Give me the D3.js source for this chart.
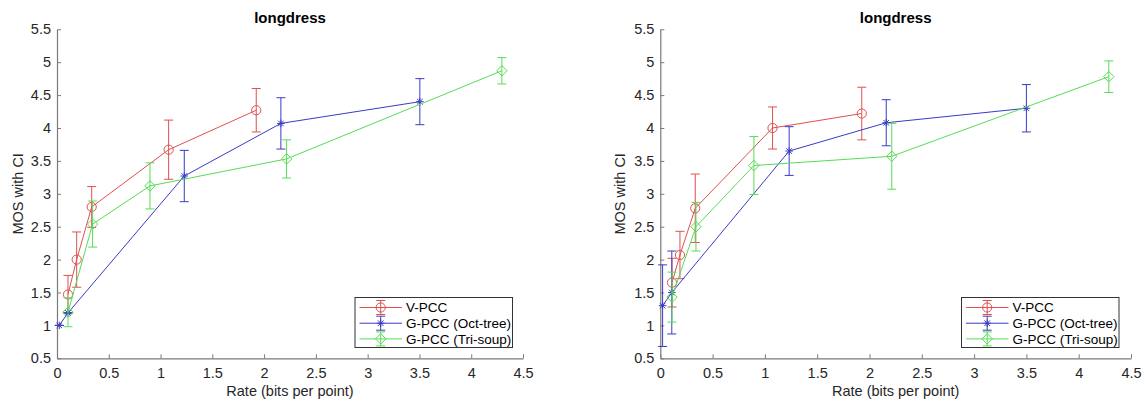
<!DOCTYPE html>
<html>
<head>
<meta charset="utf-8">
<script src="https://cdn.jsdelivr.net/npm/d3@7"></script>
<style>
  html, body { margin: 0; padding: 0; background: #fff; }
  svg { display: block; font-family: "Liberation Sans", Arial, sans-serif; }
</style>
</head>
<body>
<svg id="chart" width="1145" height="401"></svg>
<script>
// ---- data ----
const chartTitle = "longdress";
const xLabel = "Rate (bits per point)";
const yLabel = "MOS with CI";
const xTicks = [0, 0.5, 1, 1.5, 2, 2.5, 3, 3.5, 4, 4.5];
const yTicks = [0.5, 1, 1.5, 2, 2.5, 3, 3.5, 4, 4.5, 5, 5.5];
const seriesNames = ["V-PCC", "G-PCC (Oct-tree)", "G-PCC (Tri-soup)"];

// left panel
const leftVpccRate = [0.106, 0.19, 0.335, 1.078, 1.924];
const leftVpccMos  = [1.47, 2.00, 2.80, 3.67, 4.27];
const leftVpccCi   = [0.29, 0.42, 0.31, 0.45, 0.33];
const leftOctRate  = [0.022, 0.106, 1.229, 2.162, 3.504];
const leftOctMos   = [1.00, 1.19, 3.27, 4.07, 4.40];
const leftOctCi    = [0.0, 0.0, 0.39, 0.39, 0.35];
const leftTriRate  = [0.106, 0.344, 0.898, 2.217, 4.296];
const leftTriMos   = [1.20, 2.54, 3.12, 3.53, 4.87];
const leftTriCi    = [0.22, 0.35, 0.35, 0.29, 0.20];

// right panel
const rightVpccRate = [0.112, 0.188, 0.334, 1.073, 1.926];
const rightVpccMos  = [1.65, 2.07, 2.78, 4.00, 4.22];
const rightVpccCi   = [0.37, 0.36, 0.52, 0.32, 0.40];
const rightOctRate  = [0.022, 0.11, 1.232, 2.16, 3.50];
const rightOctMos   = [1.30, 1.50, 3.65, 4.08, 4.30];
const rightOctCi    = [0.62, 0.63, 0.37, 0.35, 0.36];
const rightTriRate  = [0.112, 0.341, 0.895, 2.213, 4.288];
const rightTriMos   = [1.43, 2.50, 3.43, 3.57, 4.78];
const rightTriCi    = [0.38, 0.37, 0.44, 0.50, 0.24];

const colors = ["#df5050", "#3a3ac8", "#55dd55"];
const markers = ["circle", "asterisk", "diamond"];

function makeSeries(rates, mos, ci) {
  return rates.map((r, i) => ({ x: r, y: mos[i], ci: ci[i] }));
}

const panels = [
  {
    left: 57, right: 523, top: 29.3, bottom: 358.3, ylabX: 18, legendX: 355,
    series: [
      makeSeries(leftVpccRate, leftVpccMos, leftVpccCi),
      makeSeries(leftOctRate, leftOctMos, leftOctCi),
      makeSeries(leftTriRate, leftTriMos, leftTriCi)
    ]
  },
  {
    left: 660.3, right: 1131, top: 29.3, bottom: 358.3, ylabX: 620, legendX: 961.5,
    series: [
      makeSeries(rightVpccRate, rightVpccMos, rightVpccCi),
      makeSeries(rightOctRate, rightOctMos, rightOctCi),
      makeSeries(rightTriRate, rightTriMos, rightTriCi)
    ]
  }
];

const svg = d3.select("#chart");
svg.append("rect").attr("width", 1145).attr("height", 401).attr("fill", "#fff");

function drawMarker(g, type, cx, cy, color) {
  if (type === "circle") {
    g.append("circle").attr("cx", cx).attr("cy", cy).attr("r", 4.6)
      .attr("fill", "none").attr("stroke", color).attr("stroke-width", 1);
  } else if (type === "diamond") {
    const s = 5.2;
    g.append("path").attr("d", `M${cx},${cy - s}L${cx + s},${cy}L${cx},${cy + s}L${cx - s},${cy}Z`)
      .attr("fill", "none").attr("stroke", color).attr("stroke-width", 1);
  } else {
    const s = 3.8, d = 2.8;
    g.append("path").attr("d",
      `M${cx - s},${cy}L${cx + s},${cy}M${cx},${cy - s}L${cx},${cy + s}` +
      `M${cx - d},${cy - d}L${cx + d},${cy + d}M${cx - d},${cy + d}L${cx + d},${cy - d}`)
      .attr("fill", "none").attr("stroke", color).attr("stroke-width", 1);
  }
}

panels.forEach(p => {
  const x = d3.scaleLinear().domain([0, 4.5]).range([p.left, p.right]);
  const y = d3.scaleLinear().domain([0.5, 5.5]).range([p.bottom, p.top]);
  const g = svg.append("g");

  // axes
  const xAxis = d3.axisBottom(x).tickValues(xTicks).tickSizeInner(-4).tickSizeOuter(0)
    .tickPadding(9).tickFormat(d3.format("~g"));
  const yAxis = d3.axisLeft(y).tickValues(yTicks).tickSizeInner(-4).tickSizeOuter(0)
    .tickPadding(10).tickFormat(d3.format("~g"));

  const gx = g.append("g").attr("transform", `translate(0,${p.bottom})`).call(xAxis);
  const gy = g.append("g").attr("transform", `translate(${p.left},0)`).call(yAxis);
  [gx, gy].forEach(ax => {
    ax.select(".domain").attr("stroke", "#7a7a7a").attr("stroke-width", 1.2);
    ax.selectAll(".tick line").attr("stroke", "#7a7a7a");
    ax.selectAll(".tick text").attr("fill", "#262626").attr("font-size", 14.5)
      .attr("font-family", "Liberation Sans, Arial, sans-serif");
  });
  gy.selectAll(".tick text").attr("dx", 4);

  // title and labels
  const cx = (p.left + p.right) / 2;
  g.append("text").attr("x", cx).attr("y", 23).attr("text-anchor", "middle")
    .attr("font-size", 15).attr("font-weight", "bold").attr("fill", "#000").text(chartTitle);
  g.append("text").attr("x", cx).attr("y", 396).attr("text-anchor", "middle")
    .attr("font-size", 14.5).attr("fill", "#262626").text(xLabel);
  g.append("text").attr("transform", `translate(${p.ylabX + 5},${(p.top + p.bottom) / 2}) rotate(-90)`)
    .attr("text-anchor", "middle").attr("font-size", 14.5).attr("fill", "#262626").text(yLabel);

  // series
  const line = d3.line().x(d => x(d.x)).y(d => y(d.y));
  p.series.forEach((s, si) => {
    const c = colors[si];
    const sg = g.append("g");
    sg.append("path").datum(s).attr("d", line).attr("fill", "none")
      .attr("stroke", c).attr("stroke-width", 1);
    s.forEach(d => {
      const px = x(d.x), yt = y(d.y + d.ci), yb = y(d.y - d.ci), cw = 4.5;
      sg.append("path").attr("d",
        `M${px},${yt}L${px},${yb}M${px - cw},${yt}L${px + cw},${yt}M${px - cw},${yb}L${px + cw},${yb}`)
        .attr("stroke", c).attr("stroke-width", 1).attr("fill", "none");
      drawMarker(sg, markers[si], px, y(d.y), c);
    });
  });

  // legend
  const lx = p.legendX, ly = 297.5, lw = 157.5, lh = 50;
  const lg = g.append("g");
  lg.append("rect").attr("x", lx).attr("y", ly).attr("width", lw).attr("height", lh)
    .attr("fill", "#fff").attr("stroke", "#333").attr("stroke-width", 1);
  seriesNames.forEach((name, i) => {
    const cy = ly + 10 + i * 15.7;
    const c = colors[i];
    lg.append("line").attr("x1", lx + 4.5).attr("x2", lx + 47).attr("y1", cy).attr("y2", cy)
      .attr("stroke", c).attr("stroke-width", 1);
    const mx = lx + 25.7;
    lg.append("path").attr("d",
      `M${mx},${cy - 7}L${mx},${cy + 7}M${mx - 4.5},${cy - 7}L${mx + 4.5},${cy - 7}M${mx - 4.5},${cy + 7}L${mx + 4.5},${cy + 7}`)
      .attr("stroke", c).attr("stroke-width", 1).attr("fill", "none");
    drawMarker(lg, markers[i], mx, cy, c);
    lg.append("text").attr("x", lx + 51).attr("y", cy + 4.8).attr("font-size", 13.5)
      .attr("fill", "#000").text(name);
  });
});
</script>
</body>
</html>
